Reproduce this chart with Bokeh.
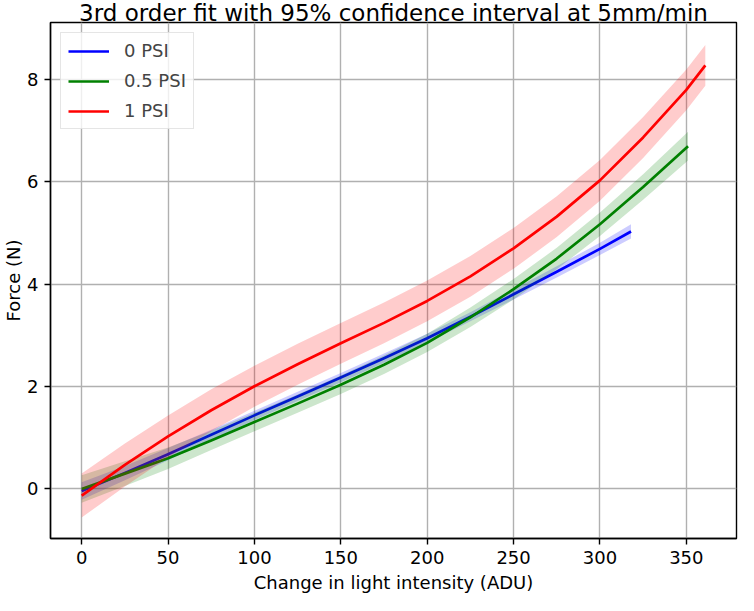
from bokeh.plotting import figure
from bokeh.models import Range1d, FixedTicker, Legend, LegendItem, Title
from bokeh.embed import file_html
from bokeh.resources import INLINE

# ---- data ----
x_0psi = [0, 25, 50, 75, 100, 125, 150, 175, 200, 225, 250, 275, 300, 318]
y_0psi = [-0.05, 0.30, 0.67, 1.05, 1.43, 1.80, 2.17, 2.55, 2.94, 3.36, 3.80, 4.24, 4.69, 5.03]
ci_0psi = [0.17, 0.14, 0.12, 0.10, 0.09, 0.09, 0.09, 0.09, 0.09, 0.09, 0.10, 0.11, 0.12, 0.14]

x_05psi = [0, 25, 50, 75, 100, 125, 150, 175, 200, 225, 250, 275, 300, 325, 351]
y_05psi = [-0.01, 0.29, 0.59, 0.94, 1.30, 1.66, 2.03, 2.42, 2.85, 3.35, 3.90, 4.50, 5.17, 5.90, 6.70]
ci_05psi = [0.27, 0.24, 0.21, 0.19, 0.18, 0.18, 0.18, 0.18, 0.18, 0.19, 0.20, 0.21, 0.23, 0.25, 0.28]

x_1psi = [0, 25, 50, 75, 100, 125, 150, 175, 200, 225, 250, 275, 300, 325, 350, 361]
y_1psi = [-0.14, 0.46, 1.02, 1.53, 2.00, 2.43, 2.84, 3.24, 3.67, 4.15, 4.70, 5.32, 6.03, 6.87, 7.80, 8.28]
ci_1psi = [0.43, 0.42, 0.41, 0.41, 0.40, 0.40, 0.40, 0.40, 0.40, 0.40, 0.40, 0.40, 0.40, 0.40, 0.40, 0.40]

series_labels = ["0 PSI", "0.5 PSI", "1 PSI"]
series_colors = ["#0000ff", "#008000", "#ff0000"]

x_ticks = [0, 50, 100, 150, 200, 250, 300, 350]
y_ticks = [0, 2, 4, 6, 8]

title_text = "3rd order fit with 95% confidence interval at 5mm/min"
x_label = "Change in light intensity (ADU)"
y_label = "Force (N)"

FONT = "DejaVu Sans"

p = figure(width=738, height=595, output_backend="svg", toolbar_location=None,
           x_range=Range1d(-18.05, 379.05), y_range=Range1d(-0.98, 9.12),
           min_border_left=44, min_border_right=2, min_border_top=0, min_border_bottom=0)

p.title.text = title_text
p.title.align = "center"
p.title.text_font = FONT
p.title.text_font_size = "23px"
p.title.text_font_style = "normal"
p.title.text_color = "black"
p.title.standoff = -6
p.title.offset = 0

xlab = Title(text=x_label, align="center", text_font=FONT, text_font_size="18px",
             text_font_style="normal", text_color="black", standoff=6, offset=0)
p.add_layout(xlab, "below")

p.background_fill_color = "white"
p.border_fill_color = "white"
p.outline_line_color = "black"
p.outline_line_width = 1.4

for ax in (p.xaxis[0], p.yaxis[0]):
    ax.axis_line_color = "black"
    ax.axis_line_width = 1.4
    ax.major_tick_line_color = "black"
    ax.major_tick_line_width = 1.4
    ax.major_tick_in = 0
    ax.major_tick_out = 6
    ax.minor_tick_line_color = None
    ax.major_label_text_font = FONT
    ax.major_label_text_font_size = "18px"
    ax.major_label_text_color = "black"
    ax.axis_label_text_font = FONT
    ax.axis_label_text_font_size = "18px"
    ax.axis_label_text_font_style = "normal"
    ax.axis_label_text_color = "black"

p.xaxis.ticker = FixedTicker(ticks=x_ticks)
p.yaxis.ticker = FixedTicker(ticks=y_ticks)
p.yaxis.axis_label = y_label
p.xaxis.major_label_standoff = 6
p.yaxis.major_label_standoff = 6
p.yaxis.axis_label_standoff = 0

p.grid.grid_line_color = "#b0b0b0"
p.grid.grid_line_width = 1.4

all_series = [(x_0psi, y_0psi, ci_0psi), (x_05psi, y_05psi, ci_05psi), (x_1psi, y_1psi, ci_1psi)]
items = []
for (xs, ys, cis), lab, col in zip(all_series, series_labels, series_colors):
    lower = [y - c for y, c in zip(ys, cis)]
    upper = [y + c for y, c in zip(ys, cis)]
    p.varea(x=xs, y1=lower, y2=upper, fill_color=col, fill_alpha=0.2)
    r = p.line(xs, ys, line_color=col, line_width=2.7, line_join="round")
    items.append(LegendItem(label=lab, renderers=[r]))

legend = Legend(items=items, location="top_left", margin=10, padding=7,
                spacing=9, glyph_width=41, glyph_height=20, label_height=20,
                label_standoff=15, label_text_font=FONT, label_text_font_size="18px",
                border_line_color="#cccccc", border_line_width=1,
                background_fill_color="white", background_fill_alpha=0.8)
p.add_layout(legend)

open("out.html", "w").write(file_html(p, INLINE))
